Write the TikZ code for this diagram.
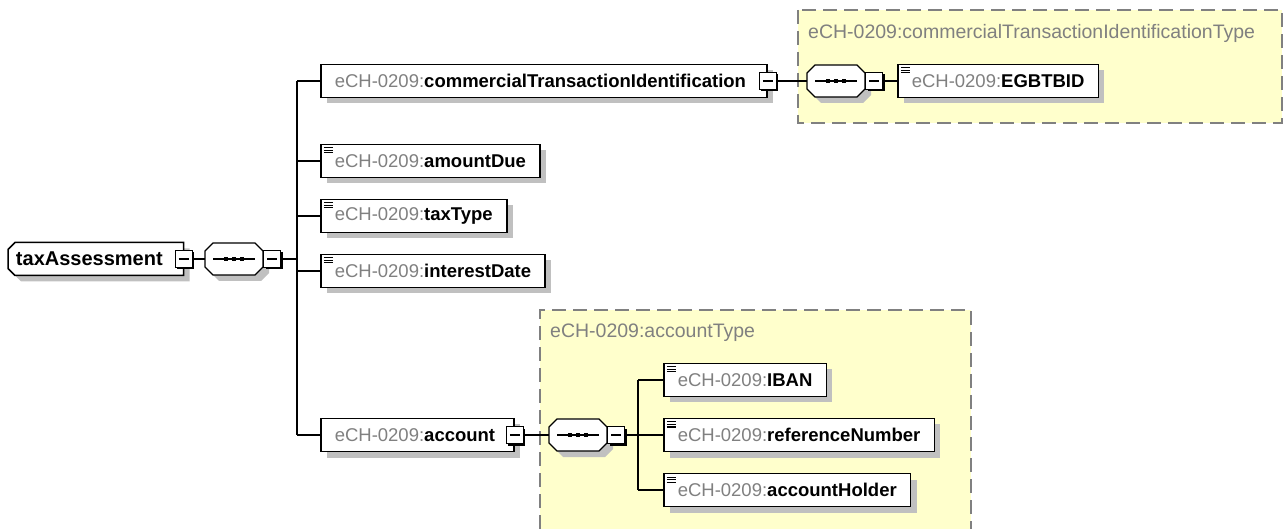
\documentclass[tikz,border=0pt]{standalone}
\usepackage{fontspec}
\setmainfont{Liberation Sans}
\usetikzlibrary{shadows}

\definecolor{prefixgray}{RGB}{128,128,128}
\definecolor{typefill}{RGB}{255,255,204}
\definecolor{typeline}{RGB}{128,128,128}
\definecolor{shadowgray}{RGB}{192,192,192}

\newcommand{\ech}[1]{\textcolor{prefixgray}{eCH-0209:}\textbf{#1}}

% box with cut corners (left side, right side)
\makeatletter
\newdimen\octxa \newdimen\octxb \newdimen\octya \newdimen\octyb
\newdimen\octl \newdimen\octr
\tikzset{cut left/.initial=0pt, cut right/.initial=0pt}
\pgfdeclareshape{cutbox}{
  \inheritsavedanchors[from=rectangle]
  \inheritanchorborder[from=rectangle]
  \inheritanchor[from=rectangle]{center}
  \inheritanchor[from=rectangle]{north}
  \inheritanchor[from=rectangle]{south}
  \inheritanchor[from=rectangle]{east}
  \inheritanchor[from=rectangle]{west}
  \inheritanchor[from=rectangle]{north east}
  \inheritanchor[from=rectangle]{north west}
  \inheritanchor[from=rectangle]{south east}
  \inheritanchor[from=rectangle]{south west}
  \inheritanchor[from=rectangle]{base}
  \inheritanchor[from=rectangle]{mid}
  \inheritanchor[from=rectangle]{text}
  \backgroundpath{%
    \southwest \global\octxa=\pgf@x \global\octya=\pgf@y
    \northeast \global\octxb=\pgf@x \global\octyb=\pgf@y
    \pgfmathsetlength\octl{\pgfkeysvalueof{/tikz/cut left}}%
    \pgfmathsetlength\octr{\pgfkeysvalueof{/tikz/cut right}}%
    \pgfpathmoveto{\pgfpoint{\octxa+\octl}{\octya}}%
    \pgfpathlineto{\pgfpoint{\octxb-\octr}{\octya}}%
    \pgfpathlineto{\pgfpoint{\octxb}{\octya+\octr}}%
    \pgfpathlineto{\pgfpoint{\octxb}{\octyb-\octr}}%
    \pgfpathlineto{\pgfpoint{\octxb-\octr}{\octyb}}%
    \pgfpathlineto{\pgfpoint{\octxa+\octl}{\octyb}}%
    \pgfpathlineto{\pgfpoint{\octxa}{\octyb-\octl}}%
    \pgfpathlineto{\pgfpoint{\octxa}{\octya+\octl}}%
    \pgfpathclose
  }
}
\makeatother

\tikzset{
  conn/.style={line width=1.3pt},
  shade box/.style={drop shadow={shadow xshift=6pt, shadow yshift=-6pt, fill=shadowgray, opacity=1}},
  elem/.style={draw, line width=1.5pt, fill=white, anchor=west,
    minimum height=33pt, inner xsep=14pt, inner ysep=0pt,
    font=\fontsize{18.5}{22}\selectfont, shade box},
  simple/.style={path picture={
    \foreach \dy in {3.5,6,8.5}
      \draw[line width=1pt] ([xshift=3pt,yshift=-\dy pt]path picture bounding box.north west) -- ++(9pt,0pt);}},
  root/.style={elem, shape=cutbox, cut left=7pt, outer sep=0pt, inner xsep=8pt,
    font=\fontsize{20}{22}\selectfont},
  seq/.style={shape=cutbox, cut left=8pt, cut right=8pt, outer sep=0pt, draw, line width=1.3pt,
    fill=white, minimum width=58pt, minimum height=32pt, inner sep=0pt, shade box,
    path picture={
      \draw[line width=1.3pt] ([xshift=-21pt]path picture bounding box.center) -- ([xshift=21pt]path picture bounding box.center);
      \foreach \dx in {-8,0,8}
        \fill[black] ([xshift=\dx pt]path picture bounding box.center) +(-2.4pt,-2.4pt) rectangle +(2.4pt,2.4pt);}},
  minus/.style={draw, line width=1pt, fill=white, minimum size=17pt, inner sep=0pt,
    drop shadow={shadow xshift=2pt, shadow yshift=-2pt, fill=black, opacity=1},
    path picture={\draw[line width=1.2pt] ([xshift=3.5pt]path picture bounding box.west) -- ([xshift=-3.5pt]path picture bounding box.east);}},
  typebox/.style={fill=typefill, draw=typeline, line width=1.5pt, dash pattern=on 14pt off 7pt},
  typelabel/.style={anchor=west, text=prefixgray, inner sep=0pt, font=\fontsize{19.5}{22}\selectfont}
}

\begin{document}
\begin{tikzpicture}[x=1pt,y=-1pt]
  \useasboundingbox (0,0) rectangle (1286,529);

  % complex types
  \draw[typebox] (798,10) rectangle (1282,123);
  \node[typelabel] (ctidtype) at (808,33) {eCH-0209:commercialTransactionIdentificationType};
  \fill[typefill] (540,310) rectangle (971,529);
  \draw[typebox] (540,529) -- (540,310) -- (971,310) -- (971,529);
  \node[typelabel] (accttype) at (550,333) {eCH-0209:accountType};

  % root element
  \node[root] (tax) at (8,259) {\textbf{taxAssessment}\kern13pt};
  \node[minus] (taxm) at (tax.east) {};
  \node[seq] (seq) at (234,259) {};
  \node[minus, anchor=west] (seqm) at (seq.east) {};
  \coordinate (bus) at (297,259);

  % children
  \node[elem] (ctid) at (320,81) {\ech{commercialTransactionIdentification}\kern7pt};
  \node[minus] (ctidm) at (ctid.east) {};
  \node[elem, simple] (due) at (320,161) {\ech{amountDue}};
  \node[elem, simple] (ttype) at (320,216) {\ech{taxType}};
  \node[elem, simple] (idate) at (320,271) {\ech{interestDate}};
  \node[elem] (acct) at (320,435) {\ech{account}\kern5pt};
  \node[minus] (acctm) at (acct.east) {};

  % commercialTransactionIdentificationType
  \node[seq] (ctseq) at (836,81) {};
  \node[minus, anchor=west] (ctseqm) at (ctseq.east) {};
  \node[elem, simple] (egbtbid) at (897,81) {\ech{EGBTBID}};

  % accountType
  \node[seq] (acseq) at (578,435) {};
  \node[minus, anchor=west] (acseqm) at (acseq.east) {};
  \coordinate (acbus) at (638,435);
  \node[elem, simple] (iban) at (663,380) {\ech{IBAN}};
  \node[elem, simple] (refnum) at (663,435) {\ech{referenceNumber}};
  \node[elem, simple] (holder) at (663,490) {\ech{accountHolder}};

  % connectors
  \draw[conn] (taxm.east) -- (seq.west);
  \draw[conn] (seqm.east) -- (bus);
  \draw[conn] (bus |- ctid.west) -- (bus |- acct.west);
  \foreach \c in {ctid,due,ttype,idate,acct}
    \draw[conn] (bus |- \c.west) -- (\c.west);
  \draw[conn] (ctidm.east) -- (ctseq.west);
  \draw[conn] (ctseqm.east) -- (egbtbid.west);
  \draw[conn] (acctm.east) -- (acseq.west);
  \draw[conn] (acseqm.east) -- (acbus);
  \draw[conn] (acbus |- iban.west) -- (acbus |- holder.west);
  \foreach \c in {iban,refnum,holder}
    \draw[conn] (acbus |- \c.west) -- (\c.west);
\end{tikzpicture}
\end{document}
